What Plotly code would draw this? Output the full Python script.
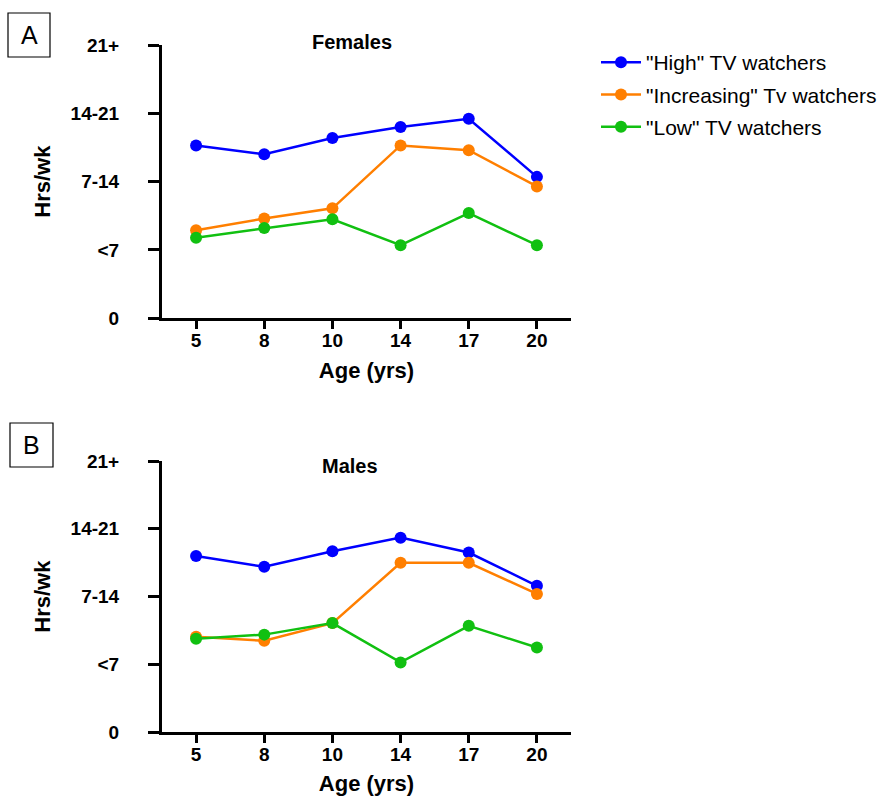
import plotly.graph_objects as go

ages = ["5", "8", "10", "14", "17", "20"]
y_tickvals = [0, 1, 2, 3, 4]
y_ticktext = ["0", "<7", "7-14", "14-21", "21+"]

series_names = ['"High" TV watchers', '"Increasing" Tv watchers', '"Low" TV watchers']
series_colors = ["#0000ff", "#ff7f00", "#11c011"]

females_high = [2.53, 2.40, 2.64, 2.80, 2.92, 2.07]
females_increasing = [1.29, 1.46, 1.61, 2.53, 2.46, 1.93]
females_low = [1.18, 1.32, 1.45, 1.07, 1.54, 1.07]

males_high = [2.60, 2.44, 2.67, 2.87, 2.65, 2.16]
males_increasing = [1.41, 1.35, 1.61, 2.50, 2.50, 2.04]
males_low = [1.38, 1.44, 1.61, 1.03, 1.57, 1.25]

W, H = 896, 796
fig = go.Figure()

panels = [
    ("x", "y", [females_high, females_increasing, females_low], True),
    ("x2", "y2", [males_high, males_increasing, males_low], False),
]
for xa, ya, data, show in panels:
    for name, color, vals in zip(series_names, series_colors, data):
        fig.add_trace(go.Scatter(
            x=ages, y=vals, xaxis=xa, yaxis=ya, name=name,
            mode="lines+markers", showlegend=show, legendgroup=name,
            line=dict(color=color, width=2.5),
            marker=dict(color=color, size=12),
        ))

xdom = [162 / W, 571 / W]
ydomA = [1 - 318.3 / H, 1 - 45 / H]
ydomB = [1 - 732.3 / H, 1 - 461 / H]

tickfont = dict(family="Liberation Sans", size=19, color="black", weight="bold")
titlefont = dict(family="Liberation Sans", size=22, color="black", weight="bold")

def xaxis_cfg(anchor):
    return dict(
        domain=xdom, anchor=anchor, type="category", range=[-0.5, 5.5],
        showline=True, linecolor="black", linewidth=3, showgrid=False, zeroline=False,
        ticks="outside", ticklen=8, tickwidth=3, tickcolor="black", automargin=False,
        tickfont=tickfont, ticklabelstandoff=-5,
        title=dict(text="Age (yrs)", font=titlefont, standoff=13),
    )

def yaxis_cfg(anchor, dom):
    return dict(
        domain=dom, anchor=anchor, range=[0, 4],
        tickvals=y_tickvals, ticktext=y_ticktext, automargin=False,
        showline=True, linecolor="black", linewidth=3, showgrid=False, zeroline=False,
        ticks="outside", ticklen=11, tickwidth=3, tickcolor="black",
        tickfont=tickfont, ticklabelstandoff=25,
        title=dict(text="Hrs/wk", font=titlefont, standoff=14),
    )

fig.update_layout(
    width=W, height=H, margin=dict(l=0, r=0, t=0, b=0, autoexpand=False),
    paper_bgcolor="white", plot_bgcolor="white",
    xaxis=xaxis_cfg("y"), yaxis=yaxis_cfg("x", ydomA),
    xaxis2=xaxis_cfg("y2"), yaxis2=yaxis_cfg("x2", ydomB),
    legend=dict(
        x=596 / W, y=1 - 42 / H, xanchor="left", yanchor="top",
        font=dict(family="Liberation Sans", size=21, color="black"),
        bgcolor="rgba(0,0,0,0)", tracegroupgap=2, itemwidth=40,
    ),
    showlegend=True,
)

# panel titles
fig.add_annotation(x=352 / W, y=1 - 42 / H, xref="paper", yref="paper", text="Females",
                   showarrow=False, xanchor="center", yanchor="middle",
                   font=dict(family="Liberation Sans", size=20, color="black", weight="bold"))
fig.add_annotation(x=350 / W, y=1 - 466 / H, xref="paper", yref="paper", text="Males",
                   showarrow=False, xanchor="center", yanchor="middle",
                   font=dict(family="Liberation Sans", size=20, color="black", weight="bold"))

# panel letters with boxes
for letter, x0, y0, x1, y1 in [("A", 8, 13, 50, 57), ("B", 10, 423, 53, 467)]:
    fig.add_shape(type="rect", xref="paper", yref="paper",
                  x0=x0 / W, x1=x1 / W, y0=1 - y1 / H, y1=1 - y0 / H,
                  line=dict(color="black", width=1.2))
    fig.add_annotation(x=(x0 + x1) / 2 / W, y=1 - (y0 + y1) / 2 / H, xref="paper", yref="paper",
                       text=letter, showarrow=False, xanchor="center", yanchor="middle",
                       font=dict(family="Liberation Sans", size=25, color="black"))

fig.write_html("out.html", post_script="document.body.style.margin='0px';",
               config={"displayModeBar": False})
